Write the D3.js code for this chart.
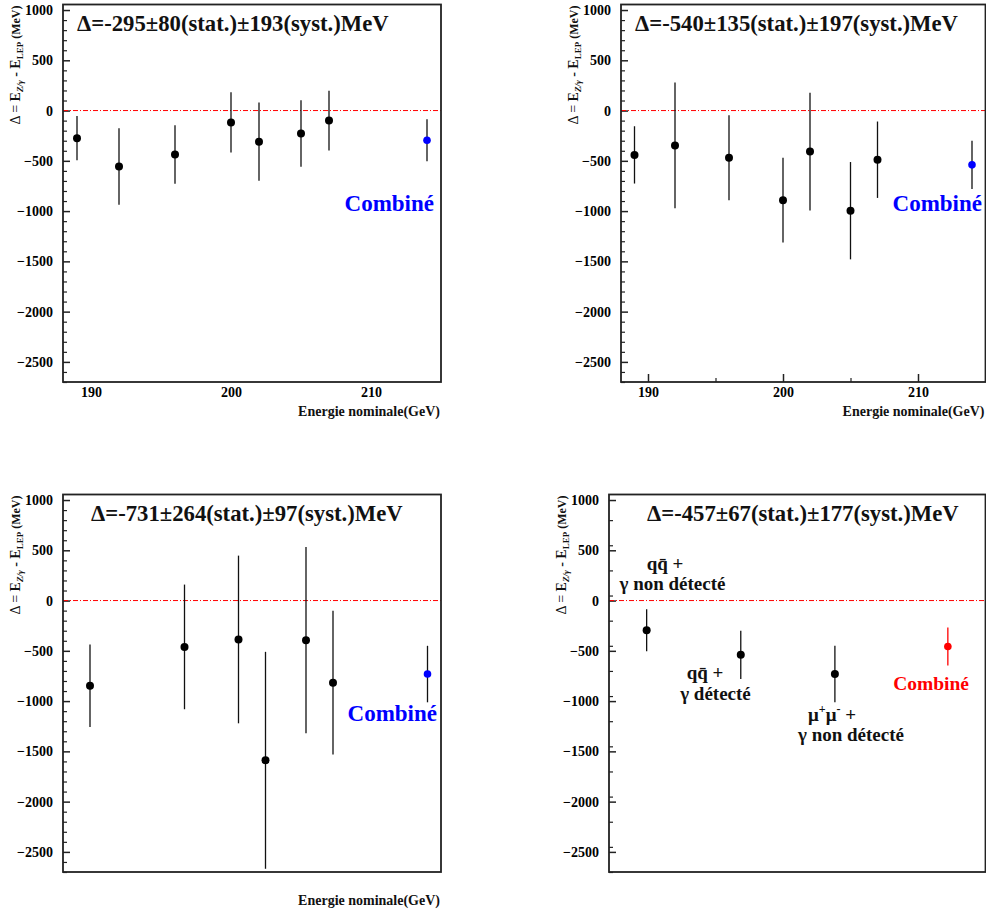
<!DOCTYPE html>
<html><head><meta charset="utf-8">
<script src="https://cdn.jsdelivr.net/npm/d3@7"></script>
<style>
html,body{margin:0;padding:0;background:#fff;}
svg{font-family:"Liberation Serif", Tinos, "Times New Roman", Times, "DejaVu Serif", serif;}
</style></head>
<body>
<svg id="c" width="986" height="916"></svg>
<script>
// ---------- data ----------
const energiesA = [189, 192, 196, 200, 202, 205, 207];
const energiesB = [189, 196, 200, 202, 205, 207];
const combinedEnergy = 214;

const p1Values = [-275, -556, -437, -118, -309, -228, -100];
const p1Errors = [220, 381, 292, 300, 388, 330, 298];
const p1Combined = [-295, 209];
const p1Title = "Δ=-295±80(stat.)±193(syst.)MeV";

const p2Values = [-441, -347, -470, -891, -408, -996, -489];
const p2Errors = [285, 625, 423, 421, 586, 484, 380];
const p2Combined = [-540, 239];
const p2Title = "Δ=-540±135(stat.)±197(syst.)MeV";

const p3Values = [-847, -461, -387, -1589, -394, -817];
const p3Errors = [410, 620, 834, 1079, 927, 715];
const p3Combined = [-731, 281];
const p3Title = "Δ=-731±264(stat.)±97(syst.)MeV";

const channelPos = [1, 2, 3];
const channelValues = [-295, -540, -731];
const channelErrors = [209, 239, 281];
const p4CombinedPos = 4.2;
const p4Combined = [-457, 189];
const p4Title = "Δ=-457±67(stat.)±177(syst.)MeV";

const yMajorTicks = [1000, 500, 0, -500, -1000, -1500, -2000, -2500];
const xTickLabels = [190, 200, 210];
const xMinorTicks = [195, 205];
const yDomain = [-2700, 1055];
const xTitle = "Energie nominale(GeV)";
const combLabel = "Combiné";

// ---------- drawing ----------
const svg = d3.select("#c");
const FONT = "Liberation Serif, Tinos, Times New Roman, Times, DejaVu Serif, serif";

function range(a, b, s){ const r=[]; for(let v=a; v<=b+1e-9; v+=s) r.push(v); return r; }

function panel(o){
  const g = svg.append("g");
  const x = d3.scaleLinear().domain(o.xDomain).range([o.left, o.right]);
  const y = d3.scaleLinear().domain(yDomain).range([o.bottom, o.top]);

  const minor = range(-2700, 1000, o.minorStep).filter(v => !yMajorTicks.includes(v));
  g.append("g").attr("transform", `translate(${o.left},0)`)
    .call(d3.axisLeft(y).tickValues(minor).tickSize(-4).tickFormat(""))
    .call(s => { s.select(".domain").remove(); s.selectAll("line").attr("stroke","#222").attr("stroke-width",1.2); });
  g.append("g").attr("transform", `translate(${o.left},0)`)
    .call(d3.axisLeft(y).tickValues(yMajorTicks).tickSize(-7).tickPadding(10).tickFormat(d3.format("d")))
    .call(s => {
      s.attr("font-family", FONT).attr("font-weight","bold");
      s.select(".domain").remove();
      s.selectAll("line").attr("stroke","#222").attr("stroke-width",1.5);
      s.selectAll("text").attr("font-family",FONT).attr("font-weight","bold").attr("font-size","14px").attr("fill","#000");
    });

  if (o.xLabels){
    const ax = d3.axisBottom(x).tickValues(xTickLabels).tickSize(o.xTicks ? -8 : 0).tickPadding(5).tickFormat(d3.format("d"));
    g.append("g").attr("transform", `translate(0,${o.bottom})`)
      .call(ax)
      .call(s => {
        s.attr("font-family", FONT).attr("font-weight","bold");
        s.select(".domain").remove();
        s.selectAll("line").attr("stroke","#222").attr("stroke-width",1.5);
        s.selectAll("text").attr("font-family",FONT).attr("font-weight","bold").attr("font-size","14px").attr("fill","#000");
      });
    if (o.xTicks){
      g.append("g").attr("transform", `translate(0,${o.bottom})`)
        .call(d3.axisBottom(x).tickValues(xMinorTicks).tickSize(-4).tickFormat(""))
        .call(s => { s.select(".domain").remove(); s.selectAll("line").attr("stroke","#222").attr("stroke-width",1.2); });
    }
  }
  if (o.xTitle){
    g.append("text").attr("x", o.right - 1).attr("y", o.bottom + o.xTitleDy)
      .attr("text-anchor","end").attr("font-family",FONT).attr("font-weight","bold")
      .attr("font-size","14px").attr("fill","#111").text(xTitle);
  }

  g.append("line").attr("x1", o.left).attr("x2", o.right).attr("y1", y(0)).attr("y2", y(0))
    .attr("stroke","#ff0000").attr("stroke-width",1).attr("stroke-dasharray","5,2,1,2");

  g.append("rect").attr("x", o.left).attr("y", o.top).attr("width", o.right - o.left).attr("height", o.bottom - o.top)
    .attr("fill","none").attr("stroke","#222").attr("stroke-width",1.8);

  const yt = g.append("text")
    .attr("transform", `translate(${o.left - 43},${o.top + 1}) rotate(-90)`)
    .attr("text-anchor","end").attr("font-family",FONT).attr("fill","#111").attr("font-size","14px");
  yt.append("tspan").attr("font-weight","normal").text("Δ = ");
  yt.append("tspan").attr("font-weight","bold").text("E");
  yt.append("tspan").attr("font-weight","bold").attr("font-style","italic").attr("font-size","9px").attr("dy",3).text("Z/γ");
  yt.append("tspan").attr("font-weight","bold").attr("dy",-3).text(" - E");
  yt.append("tspan").attr("font-weight","bold").attr("font-size","9px").attr("dy",3).text("LEP");
  yt.append("tspan").attr("font-weight","bold").attr("font-size","12px").attr("dy",-3).text(" (MeV)");

  g.append("text").attr("x", o.titleX).attr("y", o.titleY)
    .attr("font-family",FONT).attr("font-weight","bold").attr("font-size","22.7px").attr("fill","#111")
    .text(o.title);

  const pts = o.xs.map((xv,i)=>({x:xv, v:o.values[i], e:o.errors[i]}));
  g.selectAll(".eb").data(pts).join("line")
    .attr("x1", d=>x(d.x)).attr("x2", d=>x(d.x))
    .attr("y1", d=>y(d.v + d.e)).attr("y2", d=>y(d.v - d.e))
    .attr("stroke","#111").attr("stroke-width",1.3);
  g.selectAll(".pt").data(pts).join("circle")
    .attr("cx", d=>x(d.x)).attr("cy", d=>y(d.v)).attr("r",4).attr("fill","#000");

  const cx = o.combX, cv = o.combined[0], ce = o.combined[1];
  g.append("line").attr("x1", x(cx)).attr("x2", x(cx)).attr("y1", y(cv+ce)).attr("y2", y(cv-ce))
    .attr("stroke", o.combBarColor).attr("stroke-width",1.3);
  g.append("circle").attr("cx", x(cx)).attr("cy", y(cv)).attr("r",3.8).attr("fill", o.combColor);
  g.append("text").attr("x", o.combLabelX).attr("y", o.combLabelY).attr("text-anchor","end")
    .attr("font-family",FONT).attr("font-weight","bold").attr("font-size", o.combFont).attr("fill", o.combColor)
    .text(combLabel);

  return {g, x, y};
}

panel({left:63, right:441, top:4.5, bottom:382, xDomain:[188,215], minorStep:100,
  xLabels:true, xTicks:false, xTitle:true, xTitleDy:34,
  titleX:77, titleY:30.5, title:p1Title,
  xs:energiesA, values:p1Values, errors:p1Errors,
  combX:combinedEnergy, combined:p1Combined, combColor:"#0000ff", combBarColor:"#111",
  combLabelX:434, combLabelY:211, combFont:"23px"});

panel({left:621, right:985.5, top:4.5, bottom:382, xDomain:[188,215], minorStep:100,
  xLabels:true, xTicks:true, xTitle:true, xTitleDy:34,
  titleX:635, titleY:30.5, title:p2Title,
  xs:energiesA, values:p2Values, errors:p2Errors,
  combX:combinedEnergy, combined:p2Combined, combColor:"#0000ff", combBarColor:"#111",
  combLabelX:982, combLabelY:211, combFont:"23px"});

panel({left:63, right:441, top:494.5, bottom:872, xDomain:[187,215], minorStep:100,
  xLabels:false, xTicks:false, xTitle:true, xTitleDy:33,
  titleX:91, titleY:520.5, title:p3Title,
  xs:energiesB, values:p3Values, errors:p3Errors,
  combX:combinedEnergy, combined:p3Combined, combColor:"#0000ff", combBarColor:"#111",
  combLabelX:437, combLabelY:721, combFont:"23px"});

const p4 = panel({left:609, right:985.5, top:494.5, bottom:872, xDomain:[0.6,4.6], minorStep:250,
  xLabels:false, xTicks:false, xTitle:false,
  titleX:647, titleY:520.5, title:p4Title,
  xs:channelPos, values:channelValues, errors:channelErrors,
  combX:p4CombinedPos, combined:p4Combined, combColor:"#ff0000", combBarColor:"#ff0000",
  combLabelX:969, combLabelY:690, combFont:"19.5px"});

function ann(){
  return p4.g.append("text").attr("font-family",FONT).attr("font-weight","bold")
    .attr("font-size","19px").attr("fill","#111").attr("text-anchor","middle");
}
function textLine(cx, by, s){ ann().attr("x", cx).attr("y", by).text(s); }
textLine(665, 570, "qq\u0304 +");
textLine(672.5, 590, "γ non détecté");
textLine(705, 679, "qq\u0304 +");
textLine(715.5, 700, "γ détecté");
{
  const t = ann().attr("x", 832).attr("y", 721);
  t.append("tspan").text("μ");
  t.append("tspan").attr("font-size","12px").attr("dy",-8).text("+");
  t.append("tspan").attr("dy",8).text("μ");
  t.append("tspan").attr("font-size","12px").attr("dy",-8).text("-");
  t.append("tspan").attr("dy",8).text(" +");
}
textLine(851, 741, "γ non détecté");
</script>
</body></html>
